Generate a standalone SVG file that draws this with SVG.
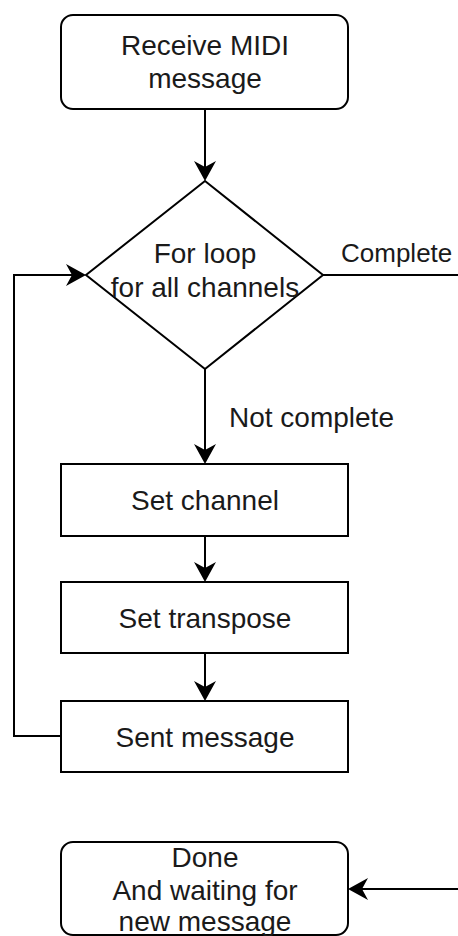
<svg xmlns="http://www.w3.org/2000/svg" width="458" height="936" viewBox="0 0 458 936">
<style>
.box{fill:#fff;stroke:#000;stroke-width:2}
.t{font-family:"Liberation Sans",Arial,sans-serif;font-size:28px;fill:#1a1a1a;text-anchor:middle}
.lbl{font-family:"Liberation Sans",Arial,sans-serif;font-size:26px;fill:#1a1a1a}
.c{fill:none;stroke:#000;stroke-width:2}
</style>
<defs>
<marker id="ah" markerUnits="userSpaceOnUse" markerWidth="24" markerHeight="24" viewBox="-21 -12 22 24" refX="-8" refY="0" orient="auto">
<path d="M0,0 L-20,-11 L-14,0 L-20,11 Z" fill="#000"/>
</marker>
</defs>
<rect width="458" height="936" fill="#fff"/>
<g id="connectors">
<path class="c" d="M205,109 V173" marker-end="url(#ah)"/>
<path class="c" d="M205,369 V456" marker-end="url(#ah)"/>
<path class="c" d="M205,536 V574" marker-end="url(#ah)"/>
<path class="c" d="M205,653 V693" marker-end="url(#ah)"/>
<path class="c" d="M61,736 H14 V275 H78" marker-end="url(#ah)"/>
<path class="c" d="M323,275 H458"/>
<path class="c" d="M458,889 H356" marker-end="url(#ah)"/>
<text class="lbl" x="341" y="262">Complete</text>
<text class="lbl" x="229" y="427" style="font-size:28px">Not complete</text>
</g>
<g id="receive">
<rect class="box" x="61" y="15" width="287" height="94" rx="12"/>
<text class="t" x="205" y="55">Receive MIDI</text>
<text class="t" x="205" y="88">message</text>
</g>
<g id="loop">
<polygon class="box" points="205,181 323,275 205,369 86,275"/>
<text class="t" x="205" y="263">For loop</text>
<text class="t" x="205" y="297">for all channels</text>
</g>
<g id="setchannel">
<rect class="box" x="61" y="464" width="287" height="72"/>
<text class="t" x="205" y="510">Set channel</text>
</g>
<g id="settranspose">
<rect class="box" x="61" y="582" width="287" height="71"/>
<text class="t" x="205" y="628">Set transpose</text>
</g>
<g id="sent">
<rect class="box" x="61" y="701" width="287" height="71"/>
<text class="t" x="205" y="747">Sent message</text>
</g>
<g id="done">
<rect class="box" x="61" y="842" width="287" height="93" rx="12"/>
<text class="t" x="205" y="867">Done</text>
<text class="t" x="205" y="900">And waiting for</text>
<text class="t" x="205" y="931">new message</text>
</g>
</svg>
